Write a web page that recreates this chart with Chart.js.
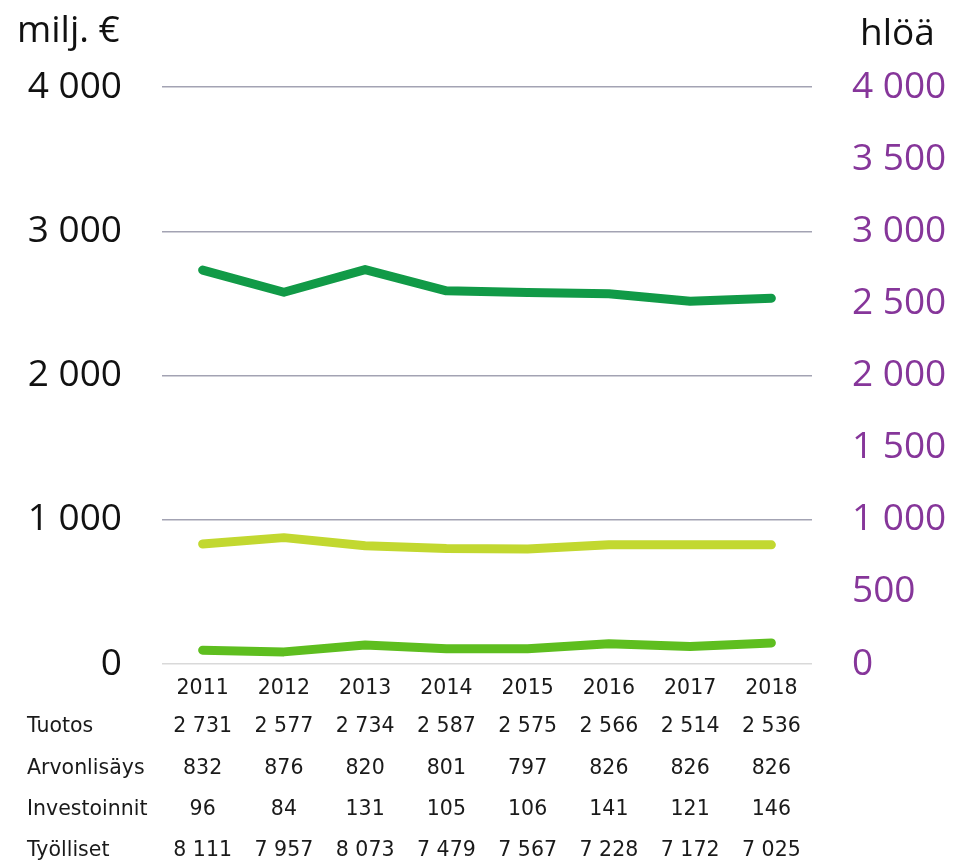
<!DOCTYPE html>
<html>
<head>
<meta charset="utf-8">
<script src="https://cdn.jsdelivr.net/npm/chart.js@4.4.1/dist/chart.umd.min.js"></script>
<style>
  body { margin: 0; background: #fff; }
  #wrap { width: 955px; height: 864px; }
</style>
</head>
<body>
<div id="wrap"><canvas id="chart" width="955" height="864"></canvas></div>
<script>
// Data
const years = ['2011', '2012', '2013', '2014', '2015', '2016', '2017', '2018'];
const tuotos = [2731, 2577, 2734, 2587, 2575, 2566, 2514, 2536];
const arvonlisays = [832, 876, 820, 801, 797, 826, 826, 826];
const investoinnit = [96, 84, 131, 105, 106, 141, 121, 146];
const tyolliset = [8111, 7957, 8073, 7479, 7567, 7228, 7172, 7025];

const tableRows = [
  { label: 'Tuotos', values: tuotos },
  { label: 'Arvonlisäys', values: arvonlisays },
  { label: 'Investoinnit', values: investoinnit },
  { label: 'Työlliset', values: tyolliset }
];

const axisFont = '"Open Sans", sans-serif';
const tableFont = '"DejaVu Sans", sans-serif';
const purple = '#86369A';

function fmt(n) {
  return String(n).replace(/\B(?=(\d{3})+(?!\d))/g, ' ');
}

// Draws axis titles and the data table under the chart
const extrasPlugin = {
  id: 'extras',
  afterDraw(chart) {
    const ctx = chart.ctx;
    const x = chart.scales.x;
    ctx.save();
    ctx.fillStyle = '#111';
    ctx.font = '37px ' + axisFont;
    ctx.textBaseline = 'alphabetic';
    ctx.textAlign = 'left';
    ctx.fillText('milj. €', 17, 42);
    ctx.fillText('hlöä', 860, 45);

    ctx.font = '20.5px ' + tableFont;
    ctx.fillStyle = '#1a1a1a';
    ctx.textBaseline = 'middle';
    const rowY = [727, 769, 810, 851];
    tableRows.forEach((row, r) => {
      ctx.textAlign = 'left';
      ctx.fillText(row.label, 27, rowY[r]);
      ctx.textAlign = 'center';
      row.values.forEach((v, i) => {
        ctx.fillText(fmt(v), x.getPixelForValue(i), rowY[r]);
      });
    });
    ctx.restore();
  }
};

new Chart(document.getElementById('chart'), {
  type: 'line',
  data: {
    labels: years,
    datasets: [
      { label: 'Tuotos', data: tuotos, borderColor: '#119A47', yAxisID: 'y' },
      { label: 'Arvonlisäys', data: arvonlisays, borderColor: '#C2D830', yAxisID: 'y' },
      { label: 'Investoinnit', data: investoinnit, borderColor: '#5EBE1F', yAxisID: 'y' }
    ]
  },
  options: {
    responsive: false,
    animation: false,
    layout: { padding: { top: 87, left: 0, right: 0, bottom: 0 } },
    elements: {
      line: { borderWidth: 9, tension: 0, borderCapStyle: 'round', borderJoinStyle: 'round' },
      point: { radius: 0 }
    },
    plugins: {
      legend: { display: false },
      tooltip: { enabled: false }
    },
    scales: {
      x: {
        offset: true,
        grid: { display: false },
        border: { display: false },
        ticks: { padding: 4, color: '#1a1a1a', font: { family: tableFont, size: 20.5 }, maxRotation: 0 },
        afterFit(scale) { scale.height = 200; }
      },
      y: {
        position: 'left',
        min: 0,
        max: 4000,
        ticks: {
          stepSize: 1000,
          padding: 40,
          color: '#111',
          font: { family: axisFont, size: 37 },
          callback: v => fmt(v)
        },
        grid: {
          drawTicks: false,
          lineWidth: 1.5,
          color: c => c.tick && c.tick.value === 0 ? '#d9d9d9' : '#a3a3b3'
        },
        border: { display: false },
        afterFit(scale) { scale.width = 162; }
      },
      y1: {
        position: 'right',
        min: 0,
        max: 4000,
        ticks: {
          stepSize: 500,
          padding: 40,
          color: purple,
          font: { family: axisFont, size: 37 },
          callback: v => fmt(v)
        },
        grid: { display: false, drawTicks: false },
        border: { display: false },
        afterFit(scale) { scale.width = 143; }
      }
    }
  },
  plugins: [extrasPlugin]
});
</script>
</body>
</html>
